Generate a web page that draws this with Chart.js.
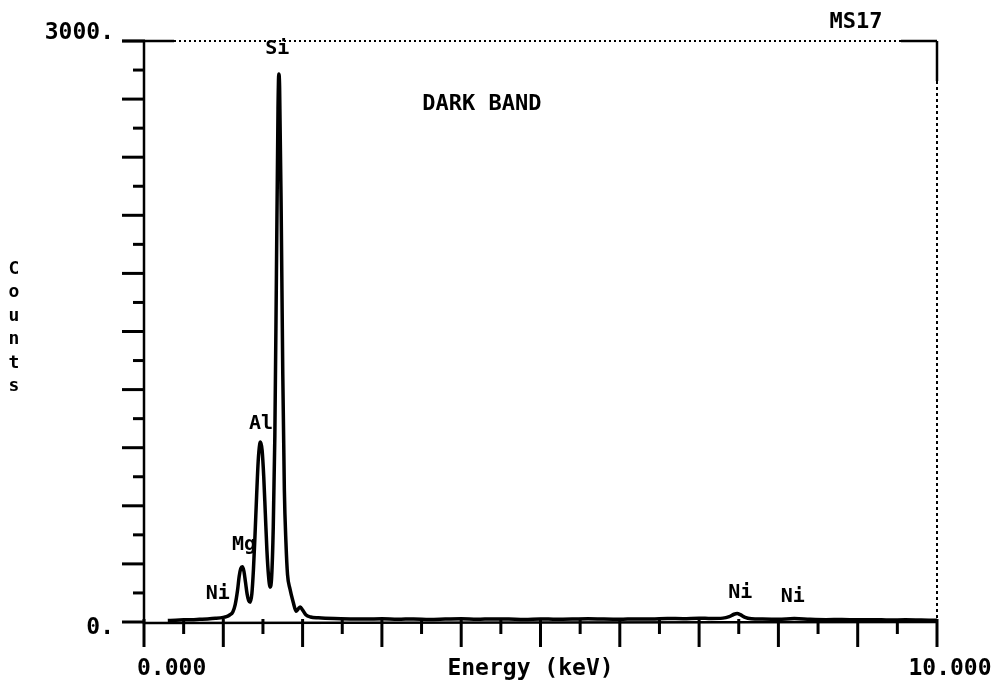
<!DOCTYPE html>
<html>
<head>
<meta charset="utf-8">
<script src="https://cdn.jsdelivr.net/npm/chart.js@4/dist/chart.umd.min.js"></script>
<style>
  html, body { margin: 0; padding: 0; background: #fff; }
  canvas { display: block; }
</style>
</head>
<body>
<canvas id="spectrum" width="1007" height="688"></canvas>
<script>
// EDS spectrum, sample MS17 (dark band)
const energyKeV = [
  0.30, 0.40, 0.50, 0.60, 0.70, 0.80, 0.90, 1.00, 1.04, 1.08,
  1.12, 1.15, 1.18, 1.20, 1.22, 1.24, 1.26, 1.28, 1.30, 1.32,
  1.34, 1.36, 1.38, 1.40, 1.42, 1.44, 1.46, 1.47, 1.49, 1.51,
  1.53, 1.55, 1.57, 1.59, 1.61, 1.63, 1.65, 1.67, 1.69, 1.70,
  1.71, 1.73, 1.75, 1.77, 1.79, 1.81, 1.84, 1.88, 1.92, 1.95,
  1.97, 2.00, 2.04, 2.10, 2.20, 2.40, 2.60, 2.80, 3.00, 3.20,
  3.40, 3.60, 3.80, 4.00, 4.20, 4.40, 4.60, 4.80, 5.00, 5.20,
  5.40, 5.60, 5.80, 6.00, 6.20, 6.40, 6.60, 6.80, 7.00, 7.15,
  7.30, 7.38, 7.44, 7.48, 7.52, 7.58, 7.66, 7.80, 8.00, 8.20,
  8.40, 8.60, 8.80, 9.00, 9.20, 9.40, 9.60, 9.80, 10.00
];
const counts = [
     8,    9,   11,   12,   14,   16,   19,   24,   28,   36,
    52,   90,  165,  235,  276,  285,  262,  205,  145,  110,
   102,  145,  270,  450,  650,  830,  920,  930,  885,  750,
   560,  370,  240,  180,  235,  490,  960, 1800, 2650, 2830,
  2760, 2120, 1280,  680,  410,  245,  172,  105,   55,   70,
    78,   62,   38,   26,   22,   18,   16,   15,   17,   14,
    16,   13,   15,   17,   14,   16,   15,   13,   16,   14,
    15,   17,   15,   14,   16,   15,   18,   17,   20,   18,
    20,   28,   40,   44,   38,   24,   17,   15,   14,   18,
    14,   12,   13,   11,   12,   10,   11,   10,    9
];

// axis ticks and their labels
const xMajorTicks = [0, 1, 2, 3, 4, 5, 6, 7, 8, 9, 10];
const xMinorTicks = [0.5, 1.5, 2.5, 3.5, 4.5, 5.5, 6.5, 7.5, 8.5, 9.5];
const yMajorTicks = [0, 300, 600, 900, 1200, 1500, 1800, 2100, 2400, 2700, 3000];
const yMinorTicks = [150, 450, 750, 1050, 1350, 1650, 1950, 2250, 2550, 2850];
const xTickLabels = [{ v: 0, text: '0.000' }, { v: 10, text: '10.000' }];
const yTickLabels = [{ v: 0, text: '0.' }, { v: 3000, text: '3000.' }];

// element markers and captions placed in data coordinates
const peakNames  = ['Si',  'Al',  'Mg',  'Ni',  'Ni',  'Ni'];
const peakEnergy = [1.68,  1.475, 1.26,  0.93,  7.52,  8.18];
const peakLabelY = [2958,  1022,  398,   145,   150,   129];
const captions   = [{ text: 'DARK BAND', e: 4.26, c: 2674 }, { text: 'MS17', e: 8.98, c: 3098 }];

const MONO = '"DejaVu Sans Mono", "Liberation Mono", monospace';

const frame = {
  id: 'frame',
  beforeDraw(chart) {
    const ctx = chart.ctx;
    ctx.save();
    ctx.fillStyle = '#fff';
    ctx.fillRect(0, 0, chart.width, chart.height);
    ctx.restore();
  },
  afterDatasetsDraw(chart) {
    const ctx = chart.ctx;
    const xs = chart.scales.x, ys = chart.scales.y;
    const L = xs.getPixelForValue(0), R = xs.getPixelForValue(10);
    const B = ys.getPixelForValue(0), T = ys.getPixelForValue(3000);
    ctx.save();
    ctx.strokeStyle = '#000';
    ctx.lineCap = 'butt';

    // top border: dotted with solid ends
    ctx.lineWidth = 2;
    ctx.setLineDash([2, 3]);
    ctx.beginPath(); ctx.moveTo(L + 30, T); ctx.lineTo(R - 36, T); ctx.stroke();
    ctx.setLineDash([]);
    ctx.lineWidth = 2.5;
    ctx.beginPath(); ctx.moveTo(L - 22, T); ctx.lineTo(L + 30, T); ctx.stroke();
    ctx.beginPath(); ctx.moveTo(R - 36, T); ctx.lineTo(R, T); ctx.stroke();

    // right border: solid near the corner, then dotted
    ctx.beginPath(); ctx.moveTo(R, T); ctx.lineTo(R, T + 40); ctx.stroke();
    ctx.setLineDash([3, 3]);
    ctx.lineWidth = 2;
    ctx.beginPath(); ctx.moveTo(R, T + 40); ctx.lineTo(R, B); ctx.stroke();
    ctx.setLineDash([]);

    // left and bottom axes
    ctx.lineWidth = 2.5;
    ctx.beginPath(); ctx.moveTo(L, T); ctx.lineTo(L, B + 1); ctx.lineTo(R + 1, B); ctx.stroke();

    // x ticks
    ctx.lineWidth = 3;
    xMajorTicks.forEach(v => {
      const p = xs.getPixelForValue(v);
      ctx.beginPath(); ctx.moveTo(p, B - 3); ctx.lineTo(p, B + 25); ctx.stroke();
    });
    xMinorTicks.forEach(v => {
      const p = xs.getPixelForValue(v);
      ctx.beginPath(); ctx.moveTo(p, B - 3); ctx.lineTo(p, B + 12); ctx.stroke();
    });
    // y ticks
    yMajorTicks.forEach(v => {
      const p = ys.getPixelForValue(v);
      ctx.beginPath(); ctx.moveTo(L - 22, p); ctx.lineTo(L + 1, p); ctx.stroke();
    });
    yMinorTicks.forEach(v => {
      const p = ys.getPixelForValue(v);
      ctx.beginPath(); ctx.moveTo(L - 11, p); ctx.lineTo(L + 1, p); ctx.stroke();
    });

    // tick labels
    ctx.fillStyle = '#000';
    ctx.font = 'bold 23px ' + MONO;
    ctx.textBaseline = 'middle';
    ctx.textAlign = 'left';
    ctx.fillText(xTickLabels[0].text, xs.getPixelForValue(xTickLabels[0].v) - 7, B + 47);
    ctx.textAlign = 'center';
    ctx.fillText(xTickLabels[1].text, xs.getPixelForValue(xTickLabels[1].v) + 13, B + 47);
    ctx.textAlign = 'right';
    yTickLabels.forEach(t => ctx.fillText(t.text, L - 30, ys.getPixelForValue(t.v) - (t.v === 0 ? -6 : 8)));

    // axis titles
    ctx.textAlign = 'center';
    ctx.fillText('Energy (keV)', (L + R) / 2 - 10, B + 47);
    ctx.font = 'bold 18px ' + MONO;
    const letters = 'Counts'.split('');
    letters.forEach((ch, i) => ctx.fillText(ch, 14, 269 + i * 23.5));

    // element markers
    ctx.font = 'bold 20px ' + MONO;
    peakNames.forEach((n, i) => {
      ctx.fillText(n, xs.getPixelForValue(peakEnergy[i]), ys.getPixelForValue(peakLabelY[i]));
    });
    ctx.font = 'bold 22px ' + MONO;
    captions.forEach(c => ctx.fillText(c.text, xs.getPixelForValue(c.e), ys.getPixelForValue(c.c)));
    ctx.restore();
  }
};

new Chart(document.getElementById('spectrum'), {
  type: 'line',
  data: {
    datasets: [{
      data: energyKeV.map((e, i) => ({ x: e, y: counts[i] })),
      borderColor: '#000',
      borderWidth: 3.5,
      pointRadius: 0,
      fill: false,
      cubicInterpolationMode: 'monotone'
    }]
  },
  options: {
    responsive: false,
    animation: false,
    layout: { padding: { left: 144, right: 70, top: 41, bottom: 66 } },
    scales: {
      x: { type: 'linear', min: 0, max: 10, display: false },
      y: { type: 'linear', min: 0, max: 3000, display: false }
    },
    plugins: { legend: { display: false }, tooltip: { enabled: false } }
  },
  plugins: [frame]
});
</script>
</body>
</html>
